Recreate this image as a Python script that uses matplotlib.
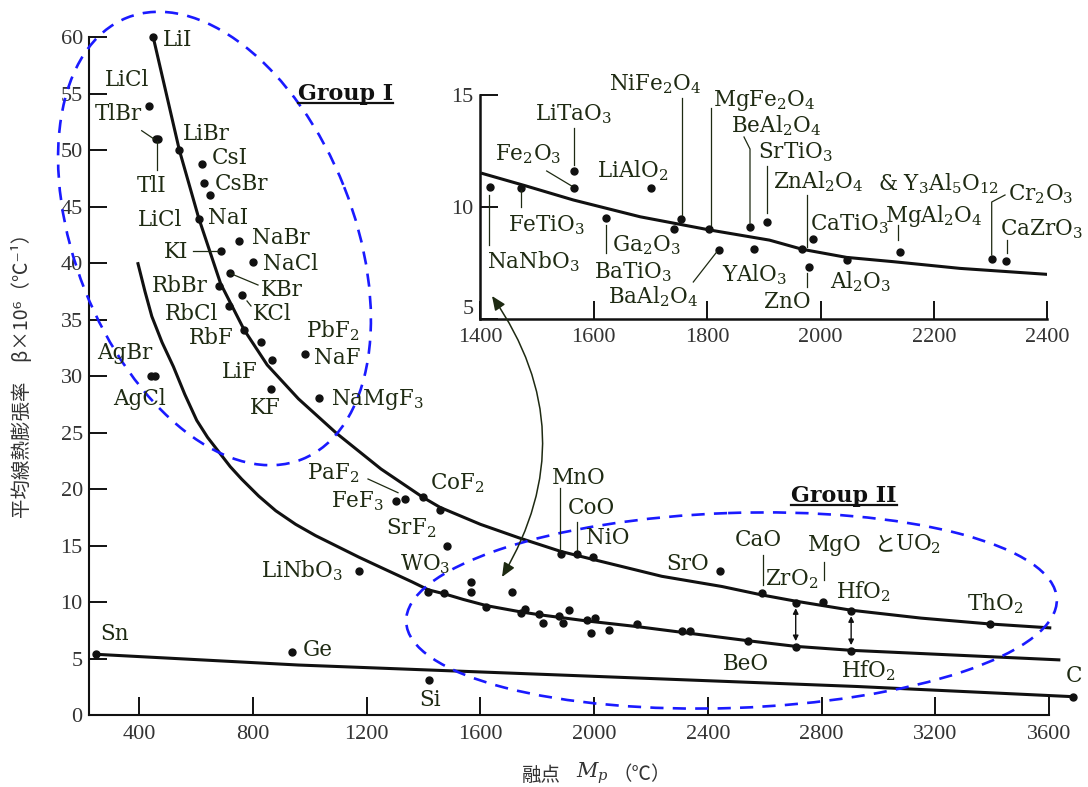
import matplotlib
matplotlib.use("Agg")
import matplotlib.pyplot as plt
from matplotlib.patches import Ellipse, FancyArrowPatch

plt.rcParams["mathtext.fontset"] = "dejavuserif"

W, H = 1088, 787
INK = "#111111"
LABEL = "#1e2a12"
TICK = "#333333"
BLUE = "#1a1aff"

# ---- values: melting point (deg C) vs mean expansion (1e-6/deg C)
halide_mp = [449, 434, 457, 466, 541, 619, 628, 650, 609, 688, 752, 799, 719, 680,
             762, 716, 769, 829, 868, 983, 863, 1033, 440, 455,
             1304, 1335, 1397, 1458, 1481, 1172]
halide_beta = [60.0, 53.9, 51.0, 51.0, 50.0, 48.8, 47.1, 46.0, 43.9, 41.1, 42.0, 40.1,
               39.1, 38.0, 37.2, 36.2, 34.1, 33.0, 31.4, 32.0, 28.9, 28.05, 30.0, 30.0,
               19.0, 19.1, 19.3, 18.2, 15.0, 12.8]

oxide_mp = [1417, 1473, 1567, 1567, 1712, 1619, 1742, 1757, 1807, 1821, 1877, 1910,
            1890, 1974, 2003, 1988, 2053, 2152, 2308, 2337, 2541, 2709, 2904,
            1883, 1938, 1995, 2443, 2590, 2709, 2805, 2904, 3393]
oxide_beta = [10.9, 10.85, 11.8, 10.9, 10.9, 9.6, 9.08, 9.38, 9.0, 8.17, 8.8, 9.3,
              8.2, 8.43, 8.6, 7.26, 7.55, 8.05, 7.46, 7.46, 6.55, 6.07, 5.72,
              14.3, 14.3, 14.0, 12.8, 10.8, 9.97, 10.0, 9.26, 8.08]

elem_mp = [246, 938, 1418, 3683]
elem_beta = [5.4, 5.6, 3.1, 1.65]

# trend curves
upper_mp = [449, 541, 609, 686, 769, 850, 960, 1094, 1250, 1397, 1458, 1600, 1736,
            1883, 1995, 2238, 2449, 2590, 2709, 2904, 3150, 3393, 3608]
upper_beta = [60.0, 50.0, 44.0, 38.2, 34.1, 31.0, 28.0, 24.95, 21.8, 19.3, 18.4, 16.9,
              15.7, 14.5, 13.8, 12.3, 11.4, 10.65, 10.1, 9.3, 8.6, 8.08, 7.73]
lower_mp = [394, 420, 444, 480, 520, 560, 602, 640, 680, 720, 760, 820, 880, 950,
            1020, 1100, 1172, 1240, 1300, 1360, 1417, 1473, 1540, 1622,
            1742, 1807, 1974, 2151, 2322, 2541, 2709, 2904, 3640]
lower_beta = [40.1, 37.5, 35.3, 33.0, 30.85, 28.4, 26.1, 24.6, 23.3, 22.0, 20.9, 19.4,
              18.1, 16.9, 15.9, 14.9, 14.0, 13.2, 12.5, 11.8, 11.1, 10.75, 10.25, 9.7,
              9.15, 8.9, 8.35, 7.85, 7.3, 6.6, 6.1, 5.75, 4.9]
elem_line_mp = [246, 959, 1845, 2924, 3683]
elem_line_beta = [5.4, 4.45, 3.6, 2.55, 1.65]

# ZrO2 / HfO2 gaps between the two oxide curves
gap_mp = [2709, 2904]
gap_top = [9.97, 9.26]
gap_bot = [6.07, 5.72]

# inset: complex oxides
inset_mp = [1417, 1471, 1565, 1565, 1701, 1622, 1742, 1754, 1804, 1821, 1876, 1883,
            1906, 1968, 1987, 1980, 2047, 2140, 2302, 2328]
inset_beta = [10.88, 10.84, 10.87, 11.63, 10.87, 9.53, 9.04, 9.46, 9.03, 8.08, 9.13,
              8.13, 9.32, 8.12, 8.57, 7.32, 7.64, 7.99, 7.67, 7.6]
inset_curve_mp = [1404, 1480, 1564, 1682, 1805, 1910, 1968, 2046, 2128, 2246, 2402]
inset_curve_beta = [11.5, 10.95, 10.32, 9.57, 8.98, 8.53, 8.12, 7.76, 7.57, 7.27, 7.0]

main_xticks = list(range(400, 3601, 400))
main_yticks = list(range(0, 61, 5))
inset_xticks = list(range(1400, 2401, 200))
inset_yticks = [5, 10, 15]

# labels: (text, x px, y px) -- y is the visual middle of the capitals
main_labels = [
    ("LiI", 163, 38), ("LiCl", 105, 78), ("TlBr", 95, 113), ("TlI", 137, 185),
    ("LiBr", 183, 133), ("CsI", 212, 157), ("CsBr", 215, 183), ("LiCl", 138, 218),
    ("NaI", 208, 216), ("KI", 164, 250), ("NaBr", 252, 237), ("NaCl", 263, 263),
    ("KBr", 261, 289), ("RbBr", 152, 285), ("RbCl", 165, 312), ("KCl", 253, 313),
    ("RbF", 189, 337), ("PbF$_2$", 306, 330), ("NaF", 314, 357), ("LiF", 222, 370),
    ("KF", 250, 407), ("NaMgF$_3$", 331, 398), ("AgBr", 97, 352), ("AgCl", 113, 397),
    ("PaF$_2$", 307, 472), ("FeF$_3$", 331, 500), ("CoF$_2$", 430, 482),
    ("SrF$_2$", 386, 527), ("WO$_3$", 400, 563), ("LiNbO$_3$", 261, 570),
    ("Sn", 100, 633), ("Ge", 303, 648), ("Si", 419, 698),
    ("MnO", 552, 477), ("CoO", 568, 507), ("NiO", 586, 537), ("SrO", 666, 563),
    ("CaO", 735, 538), ("ZrO$_2$", 765, 578), ("HfO$_2$", 836, 591),
    ("ThO$_2$", 967, 603), ("BeO", 723, 662), ("HfO$_2$", 841, 670), ("C", 1066, 675),
    ("MgO", 808, 543), ("UO$_2$", 895, 543),
]
inset_labels = [
    ("LiTaO$_3$", 535, 112), ("Fe$_2$O$_3$", 495, 152), ("LiAlO$_2$", 597, 169),
    ("FeTiO$_3$", 508, 223), ("Ga$_2$O$_3$", 612, 243), ("NaNbO$_3$", 487, 260),
    ("BaTiO$_3$", 594, 270), ("BaAl$_2$O$_4$", 608, 295), ("NiFe$_2$O$_4$", 609, 82),
    ("MgFe$_2$O$_4$", 713, 98), ("BeAl$_2$O$_4$", 731, 124), ("SrTiO$_3$", 758, 150),
    ("ZnAl$_2$O$_4$", 773, 180), ("& Y$_3$Al$_5$O$_{12}$", 878, 182),
    ("Cr$_2$O$_3$", 1008, 192), ("CaTiO$_3$", 810, 222), ("MgAl$_2$O$_4$", 885, 214),
    ("CaZrO$_3$", 1000, 227), ("YAlO$_3$", 722, 273), ("ZnO", 764, 300),
    ("Al$_2$O$_3$", 830, 280),
]
leaders = [
    [(141.7, 130.7), (154, 139)], [(156.7, 141), (156.7, 170)],
    [(193, 250.7), (218, 250.7)], [(230, 273.3), (258, 285)], [(247, 301), (251, 306)],
    [(368, 479), (398, 492.7)], [(559.8, 488), (559.8, 550)], [(577, 522), (577, 550)],
    [(762.5, 555), (762.5, 585)], [(824.3, 562), (824.3, 580)],
    [(489.3, 195), (489.3, 245)], [(520.7, 190), (520.7, 207)],
    [(546.7, 171), (571.7, 186)], [(574.3, 128), (574.3, 165)],
    [(605.7, 225), (605.7, 253)], [(682.3, 98), (682.3, 215)],
    [(710.7, 108), (710.7, 225)], [(744, 137), (750, 149), (750, 223)],
    [(693.3, 282), (716.7, 252)], [(767.3, 166), (767.3, 213)],
    [(806.7, 195), (806.7, 247)], [(806.7, 273), (806.7, 287)],
    [(898.3, 225), (898.3, 240)], [(1005, 195), (991.7, 202), (991.7, 255)],
    [(1006.7, 240), (1006.7, 253)],
]

fig = plt.figure(figsize=(W / 100, H / 100), dpi=100)
fig.patch.set_facecolor("white")


def style_axes(ax, xticks, yticks, xpad, ypad, spine_w):
    for s in ("top", "right"):
        ax.spines[s].set_visible(False)
    for s in ("left", "bottom"):
        ax.spines[s].set_linewidth(spine_w)
        ax.spines[s].set_color(INK)
    ax.set_xticks(xticks)
    ax.set_yticks(yticks)
    ax.tick_params(direction="in", length=13, width=1.4, color=INK, labelcolor=TICK,
                   labelsize=16)
    ax.tick_params(axis="x", pad=xpad)
    ax.tick_params(axis="y", pad=ypad)
    for lab in ax.get_xticklabels() + ax.get_yticklabels():
        lab.set_fontfamily("Liberation Serif")
    ax.patch.set_alpha(0)


# ---- main axes
ax = fig.add_axes([89 / W, 1 - 715.3 / H, (1049 - 89) / W, (715.3 - 37.3) / H])
ax.set_xlim(223, 3600)
ax.set_ylim(0, 60)
style_axes(ax, main_xticks, main_yticks, 7, 4.5, 1.5)

ax.plot(upper_mp, upper_beta, color=INK, lw=2.2, clip_on=False, solid_capstyle="butt")
ax.plot(lower_mp, lower_beta, color=INK, lw=2.2, clip_on=False, solid_capstyle="butt")
ax.plot(elem_line_mp, elem_line_beta, color=INK, lw=2.2, clip_on=False)
for xs, ys in ((halide_mp, halide_beta), (oxide_mp, oxide_beta), (elem_mp, elem_beta)):
    ax.plot(xs, ys, "o", color=INK, ms=5, clip_on=False, zorder=3)
for x, y0, y1 in zip(gap_mp, gap_top, gap_bot):
    ax.annotate("", xy=(x, y1), xytext=(x, y0),
                arrowprops=dict(arrowstyle="<|-|>", color=INK, lw=1.0,
                                mutation_scale=8, shrinkA=4, shrinkB=4))

# ---- inset axes
ins = fig.add_axes([480.3 / W, 1 - 319.3 / H, (1047.3 - 480.3) / W, (319.3 - 95) / H])
ins.set_xlim(1400, 2400)
ins.set_ylim(5, 15)
style_axes(ins, inset_xticks, inset_yticks, 6, 5, 1.8)
ins.get_yticklabels()[0].set_verticalalignment("bottom")
ins.plot(inset_curve_mp, inset_curve_beta, color=INK, lw=2.2)
ins.plot(inset_mp, inset_beta, "o", color=INK, ms=5, zorder=3)

# ---- overlay in pixel coordinates for annotations
ov = fig.add_axes([0, 0, 1, 1])
ov.set_xlim(0, W)
ov.set_ylim(H, 0)
ov.axis("off")
ov.patch.set_alpha(0)

for txt, x, y in main_labels:
    ov.text(x, y + 7.5, txt, fontsize=15.5, family="DejaVu Serif", color=LABEL,
            ha="left", va="baseline")
ov.text(875, 543 + 7.5, "と", fontsize=15, family="Noto Sans CJK JP", color=LABEL,
        ha="left", va="baseline")
for txt, x, y in inset_labels:
    ov.text(x, y + 8, txt, fontsize=15.5, family="DejaVu Serif", color=LABEL,
            ha="left", va="baseline")
for pts in leaders:
    ov.plot([p[0] for p in pts], [p[1] for p in pts], color=LABEL, lw=0.9)

# group outlines
ov.add_patch(Ellipse((214.5, 238.5), width=475, height=279, angle=68.4, fill=False,
                     ec=BLUE, lw=1.9, ls=(0, (5, 3.5))))
ov.add_patch(Ellipse((731.5, 610.5), width=651, height=195, angle=-2, fill=False,
                     ec=BLUE, lw=1.9, ls=(0, (5, 3.5))))
for txt, x, y, x2 in (("Group I", 298, 92, 393), ("Group II", 791, 494, 897)):
    ov.text(x, y + 8, txt, fontsize=16, family="DejaVu Serif", weight="bold",
            color="#111111", ha="left", va="baseline")
    ov.plot([x, x2], [y + 11, y + 11], color="#111111", lw=1.6)

ov.add_patch(FancyArrowPatch((492, 296), (502, 577), connectionstyle="arc3,rad=-0.32",
                             arrowstyle="<|-|>,head_length=0.7,head_width=0.3",
                             mutation_scale=12, color=LABEL, lw=1.1,
                             shrinkA=0, shrinkB=0))

# axis titles
ov.text(23, 371, "平均線熱膨張率　β×10⁶（℃⁻¹）", rotation=90, fontsize=14,
        family=["Noto Sans CJK JP", "DejaVu Sans"], color=TICK, ha="center",
        va="center")
ov.text(541, 775, "融点", fontsize=14, family="Noto Sans CJK JP", color=TICK,
        ha="center", va="center")
ov.text(592, 773, "$M_p$", fontsize=15, color=TICK, ha="center", va="center")
ov.text(642, 775, "（℃）", fontsize=14, family="Noto Sans CJK JP", color=TICK,
        ha="center", va="center")

fig.savefig("out.png", dpi=100)
